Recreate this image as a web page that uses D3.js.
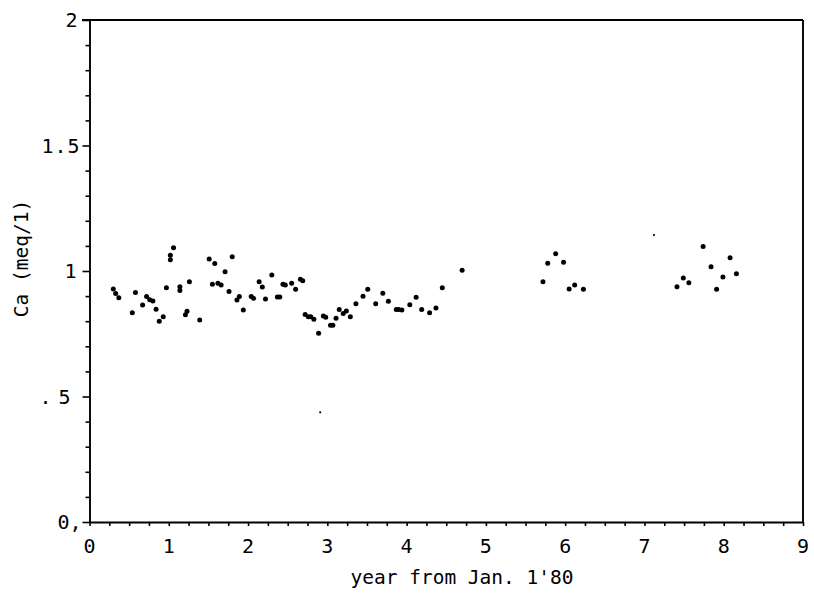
<!DOCTYPE html>
<html>
<head>
<meta charset="utf-8">
<script src="https://cdn.jsdelivr.net/npm/d3@7"></script>
<style>
  html, body { margin: 0; padding: 0; background: #fff; }
  svg { display: block; }
  text { font-family: "DejaVu Sans Mono", monospace; fill: #000; }
</style>
</head>
<body>
<svg id="chart" width="814" height="600"></svg>
<script>
// Calcium concentration samples, time in years since Jan. 1 1980
const years = [
  0.30, 0.33, 0.37, 0.54, 0.58, 0.67, 0.72, 0.76, 0.80, 0.84,
  0.88, 0.93, 0.97, 1.02, 1.02, 1.06, 1.14, 1.14, 1.21, 1.23,
  1.26, 1.39, 1.51, 1.55, 1.58, 1.62, 1.66, 1.71, 1.76, 1.80,
  1.86, 1.89, 1.94, 2.04, 2.07, 2.14, 2.18, 2.22, 2.30, 2.37,
  2.40, 2.44, 2.47, 2.55, 2.60, 2.66, 2.69, 2.72, 2.76, 2.79,
  2.83, 2.89, 2.95, 2.98, 3.04, 3.07, 3.11, 3.15, 3.20, 3.24,
  3.29, 3.36, 3.45, 3.51, 3.61, 3.70, 3.77, 3.87, 3.90, 3.94,
  4.04, 4.12, 4.19, 4.29, 4.37, 4.45, 4.70, 5.72, 5.78, 5.88,
  5.98, 6.05, 6.12, 6.23, 7.41, 7.49, 7.56, 7.74, 7.84, 7.91,
  7.99, 8.08, 8.16
];
const ca = [
  0.928, 0.910, 0.893, 0.834, 0.914, 0.865, 0.898, 0.885, 0.880, 0.848,
  0.800, 0.818, 0.933, 1.063, 1.045, 1.093, 0.937, 0.922, 0.826, 0.840,
  0.957, 0.805, 1.048, 0.947, 1.030, 0.951, 0.944, 0.997, 0.918, 1.057,
  0.884, 0.898, 0.845, 0.898, 0.891, 0.957, 0.936, 0.888, 0.984, 0.896,
  0.896, 0.947, 0.944, 0.951, 0.927, 0.967, 0.961, 0.827, 0.818, 0.818,
  0.808, 0.752, 0.821, 0.816, 0.784, 0.784, 0.812, 0.847, 0.831, 0.841,
  0.818, 0.870, 0.899, 0.927, 0.870, 0.911, 0.879, 0.847, 0.847, 0.845,
  0.866, 0.895, 0.847, 0.834, 0.853, 0.933, 1.003, 0.957, 1.031, 1.069,
  1.035, 0.928, 0.944, 0.927, 0.937, 0.972, 0.953, 1.098, 1.017, 0.927,
  0.976, 1.053, 0.989
];
// two isolated readings plotted with a lighter mark
const faintYears = [2.91, 7.12];
const faintCa = [0.437, 1.143];

const xTicks = [0, 1, 2, 3, 4, 5, 6, 7, 8, 9];
const xTickLabels = ["0", "1", "2", "3", "4", "5", "6", "7", "8", "9"];
const yTicks = [0, 0.5, 1, 1.5, 2];
const yTickLabels = ["0,", ".5", "1", "1.5", "2"];
const xTitle = "year from Jan. 1'80";
const yTitle = "Ca (meq/1)";

const svg = d3.select("#chart");
const x = d3.scaleLinear().domain([0, 9]).range([89.5, 803]);
const y = d3.scaleLinear().domain([0, 2]).range([522, 20]);

const stroke = 1.9;

// frame: top and right edges
svg.append("line").attr("x1", 82).attr("x2", x(9)).attr("y1", y(2)).attr("y2", y(2))
  .attr("stroke", "#000").attr("stroke-width", stroke);
svg.append("line").attr("x1", x(9)).attr("x2", x(9)).attr("y1", y(2)).attr("y2", y(0))
  .attr("stroke", "#000").attr("stroke-width", stroke);

// x axis with quarter-year minor ticks
const xAxis = d3.axisBottom(x)
  .tickValues(d3.range(0, 9.001, 0.25))
  .tickSize(4)
  .tickSizeOuter(0)
  .tickFormat("");
const gx = svg.append("g").attr("transform", `translate(0,${y(0)})`).call(xAxis);
gx.select(".domain").attr("stroke-width", stroke);
gx.selectAll(".tick line").attr("stroke-width", 1.6);

gx.selectAll(".major")
  .data(xTicks)
  .enter().append("text")
  .attr("x", d => x(d))
  .attr("y", 31)
  .attr("text-anchor", "middle")
  .attr("font-size", 20)
  .text((d, i) => xTickLabels[i]);

// y axis with 0.1 minor ticks
const yAxis = d3.axisLeft(y)
  .tickValues(d3.range(0, 2.001, 0.1))
  .tickSize(4)
  .tickSizeOuter(0)
  .tickFormat("");
const gy = svg.append("g").attr("transform", `translate(${x(0)},0)`).call(yAxis);
gy.select(".domain").attr("stroke-width", stroke);
gy.selectAll(".tick line").attr("stroke-width", 1.6);
gy.selectAll(".tick").filter(d => Math.abs(d * 2 - Math.round(d * 2)) < 1e-6)
  .select("line").attr("x2", -7);

// per-label right edge and spacing, relative to the axis line
const yLabelEnd = { 0: -8, 0.5: -12, 1: -13, 1.5: -9, 2: -12 };
const yLabelSpacing = { 0: 0, 0.5: 7, 1: 0, 1.5: 1, 2: 0 };
gy.selectAll(".major")
  .data(yTicks)
  .enter().append("text")
  .attr("x", d => yLabelEnd[d])
  .attr("y", d => y(d))
  .attr("dy", "0.36em")
  .attr("text-anchor", "end")
  .attr("font-size", 20)
  .attr("letter-spacing", d => yLabelSpacing[d])
  .text((d, i) => yTickLabels[i]);

// axis titles
svg.append("text")
  .attr("x", 462).attr("y", 584)
  .attr("text-anchor", "middle")
  .attr("font-size", 19.5)
  .text(xTitle);

svg.append("text")
  .attr("transform", `translate(28,${y(1.05)}) rotate(-90)`)
  .attr("text-anchor", "middle")
  .attr("font-size", 19.5)
  .text(yTitle);

// samples
svg.append("g").selectAll("circle")
  .data(years.map((t, i) => [t, ca[i]]))
  .enter().append("circle")
  .attr("cx", d => x(d[0]))
  .attr("cy", d => y(d[1]))
  .attr("r", 2.5)
  .attr("fill", "#000");

svg.append("g").selectAll("circle")
  .data(faintYears.map((t, i) => [t, faintCa[i]]))
  .enter().append("circle")
  .attr("cx", d => x(d[0]))
  .attr("cy", d => y(d[1]))
  .attr("r", 1.1)
  .attr("fill", "#000");
</script>
</body>
</html>
